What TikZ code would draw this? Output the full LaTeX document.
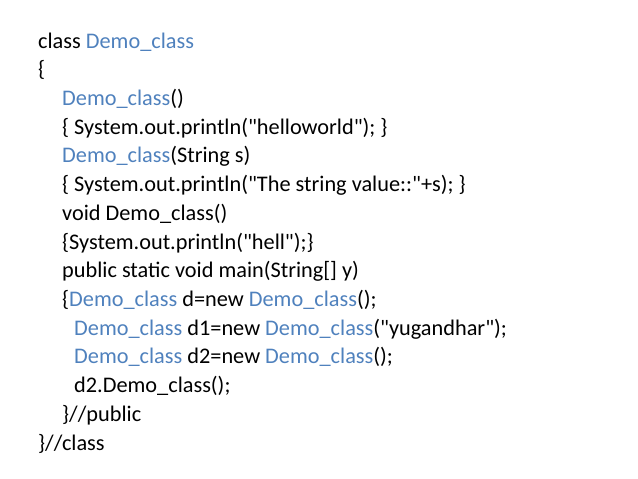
\documentclass[tikz,border=0pt]{standalone}
\usepackage{fontspec}
\setmainfont{Carlito}
\newfontfamily\qf{Carlito}
\definecolor{kw}{HTML}{4F81BD}
\begin{document}
\begin{tikzpicture}[x=1pt,y=-1pt,
  ln/.style={anchor=base west,inner sep=0pt,font=\fontsize{22.3}{26}\selectfont}]
\useasboundingbox (0,0) rectangle (638,479);
\newcommand{\B}[1]{\textcolor{kw}{#1}}
\newcommand{\q}{{\qf\char34}}
\node[ln] (l1) at (38,48) {class \B{Demo\_class}};
\node[ln] (l2) at (38,76.7) {\{};
\node[ln] (l3) at (62,105.4) {\B{Demo\_class}()};
\node[ln] (l4) at (62,134.1) {\{ System.out.println(\q helloworld\q); \}};
\node[ln] (l5) at (62,162.9) {\B{Demo\_class}(String s)};
\node[ln] (l6) at (62,191.6) {\{ System.out.println(\q The string value::\q+s); \}};
\node[ln] (l7) at (62,220.3) {void Demo\_class()};
\node[ln] (l8) at (62,249) {\{System.out.println(\q hell\q);\}};
\node[ln] (l9) at (62,277.7) {public static void main(String[] y)};
\node[ln] (l10) at (62,306.4) {\{\B{Demo\_class} d=new \B{Demo\_class}();};
\node[ln] (l11) at (74,335.1) {\B{Demo\_class} d1=new \B{Demo\_class}(\q yugandhar\q);};
\node[ln] (l12) at (74,363.9) {\B{Demo\_class} d2=new \B{Demo\_class}();};
\node[ln] (l13) at (74,392.6) {d2.Demo\_class();};
\node[ln] (l14) at (62,421.3) {\}//public};
\node[ln] (l15) at (38,450) {\}//class};
\end{tikzpicture}
\end{document}
